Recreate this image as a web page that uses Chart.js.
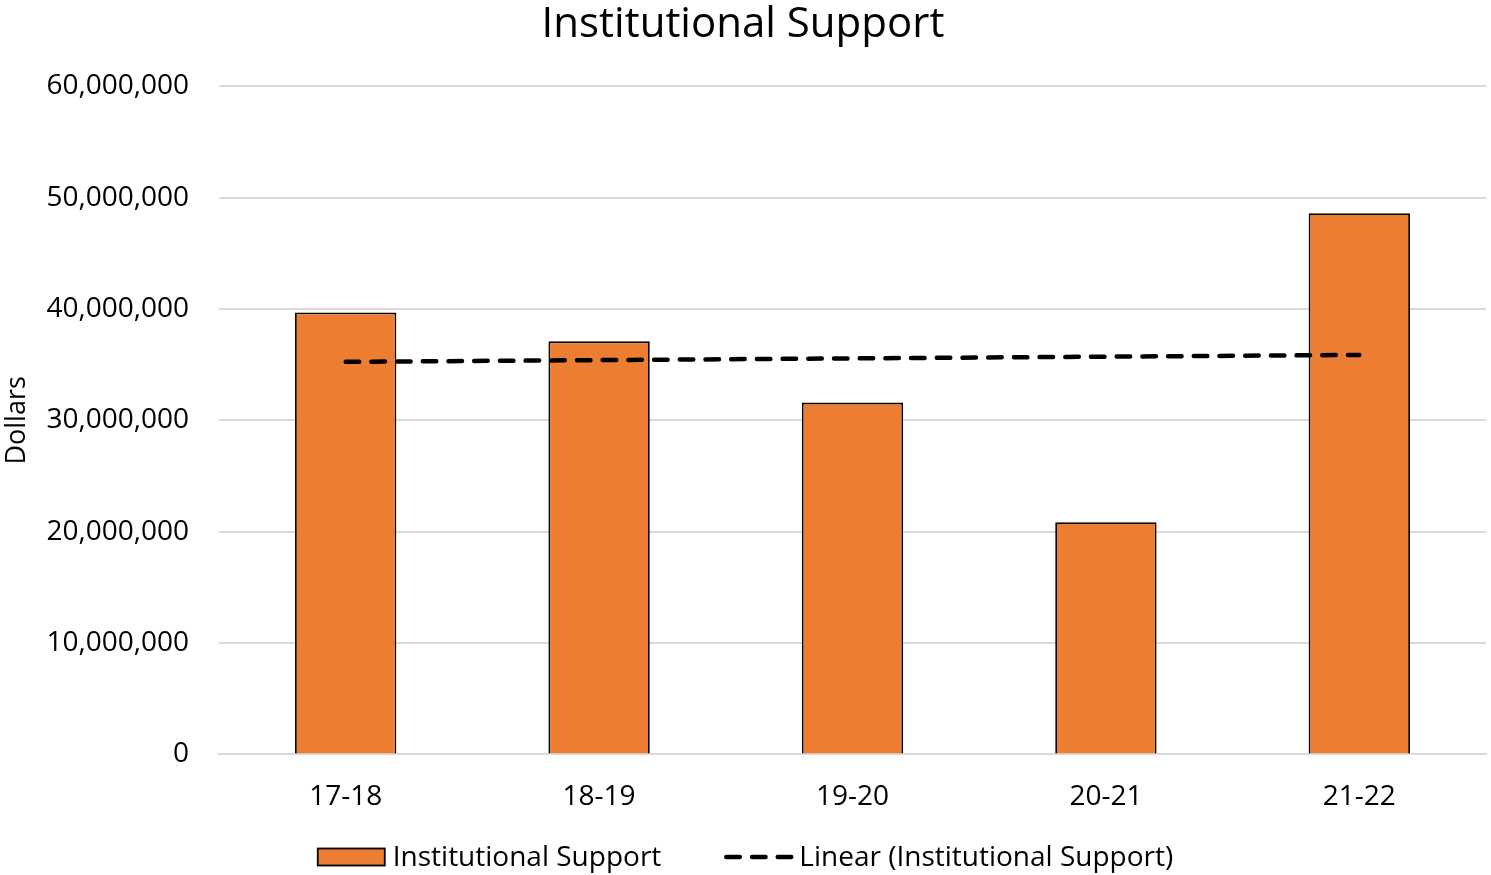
<!DOCTYPE html>
<html>
<head>
<meta charset="utf-8">
<title>Institutional Support</title>
<script src="https://cdn.jsdelivr.net/npm/chart.js"></script>
<style>
	body { margin: 0; background: #fff; }
	#wrap { width: 1491px; height: 875px; }
</style>
</head>
<body>
<div id="wrap"><canvas id="supportChart" width="1491" height="875"></canvas></div>
<script>
const years = ["17-18", "18-19", "19-20", "20-21", "21-22"];
const support = [39700000, 37100000, 31600000, 20850000, 48600000];
const yTicks = [0, 10000000, 20000000, 30000000, 40000000, 50000000, 60000000];

// least squares fit over the year index, same as a spreadsheet linear trendline
function linearTrend(values) {
	const n = values.length;
	let sx = 0, sy = 0, sxy = 0, sxx = 0;
	values.forEach((v, i) => {
		sx += i; sy += v; sxy += i * v; sxx += i * i;
	});
	const slope = (n * sxy - sx * sy) / (n * sxx - sx * sx);
	const icpt = (sy - slope * sx) / n;
	return values.map((v, i) => icpt + slope * i);
}

const trend = linearTrend(support);

Chart.defaults.font.family = "'Open Sans', sans-serif";
Chart.defaults.color = "#000";

// one-row legend under the axis: wide swatch, short gap, label, wide gap to next item
const legendRow = {
	id: "legendRow",
	afterDraw(chart, args, opts) {
		const c = chart.ctx;
		const sw = opts.swatchWidth, gap = opts.textGap, itemGap = opts.itemGap;
		c.save();
		c.font = opts.fontSize + "px 'Open Sans', sans-serif";
		c.textBaseline = "middle";
		const items = chart.data.datasets.map(ds => ({ ds, w: c.measureText(ds.label).width }));
		let total = 0;
		items.forEach((it, i) => { total += sw + gap + it.w + (i ? itemGap : 0); });
		let x = (chart.width - total) / 2;
		const y = chart.height - opts.bottom;
		items.forEach(({ ds, w }) => {
			if (ds.type === "line") {
				c.strokeStyle = ds.borderColor;
				c.lineWidth = ds.borderWidth;
				c.lineCap = ds.borderCapStyle;
				c.setLineDash(ds.borderDash);
				c.beginPath();
				c.moveTo(x + 2, y);
				c.lineTo(x + sw, y);
				c.stroke();
				c.setLineDash([]);
			} else {
				c.fillStyle = ds.backgroundColor;
				c.fillRect(x, y - 8.5, sw, 17);
				c.strokeStyle = ds.borderColor;
				c.lineWidth = ds.borderWidth;
				c.strokeRect(x, y - 8.5, sw, 17);
			}
			c.fillStyle = "#000";
			c.fillText(ds.label, x + sw + gap, y + 1);
			x += sw + gap + w + itemGap;
		});
		c.restore();
	}
};

const ctx = document.getElementById("supportChart").getContext("2d");
new Chart(ctx, {
	type: "bar",
	data: {
		labels: years,
		datasets: [{
			label: "Institutional Support",
			data: support,
			backgroundColor: "#ED7D31",
			borderColor: "#000",
			borderWidth: 1.8,
			barPercentage: 0.4,
			categoryPercentage: 1,
			order: 1
		}, {
			type: "line",
			label: "Linear (Institutional Support)",
			data: trend,
			borderColor: "#000",
			backgroundColor: "#000",
			borderWidth: 4.5,
			borderDash: [13.5, 12.2],
			borderCapStyle: "round",
			pointRadius: 0,
			fill: false,
			order: 0
		}]
	},
	options: {
		responsive: false,
		animation: false,
		devicePixelRatio: 1,
		layout: {
			padding: { left: 0, right: 5, top: 0, bottom: 43 }
		},
		plugins: {
			title: {
				display: true,
				text: "Institutional Support",
				font: { size: 42, weight: "normal" },
				color: "#000",
				padding: { top: 0, bottom: 36 }
			},
			legend: { display: false },
			legendRow: { swatchWidth: 67, textGap: 8, itemGap: 63, fontSize: 28, bottom: 18 },
			tooltip: { enabled: false }
		},
		scales: {
			x: {
				grid: { display: false },
				border: { color: "#d9d9d9", width: 2 },
				ticks: { font: { size: 28 }, padding: 18, color: "#000" }
			},
			y: {
				min: 0,
				max: 60000000,
				afterBuildTicks: (scale) => {
					scale.ticks = yTicks.map(v => ({ value: v }));
				},
				afterFit: (scale) => {
					scale.width = 219;
				},
				ticks: {
					font: { size: 28 },
					padding: 30,
					color: "#000",
					callback: (v) => Number(v).toLocaleString("en-US")
				},
				grid: { color: "#d9d9d9", lineWidth: 2, drawTicks: false },
				border: { display: false },
				title: {
					display: true,
					text: "Dollars",
					font: { size: 27 },
					color: "#000",
					padding: { top: 1, bottom: 0 }
				}
			}
		}
	},
	plugins: [legendRow]
});
</script>
</body>
</html>
